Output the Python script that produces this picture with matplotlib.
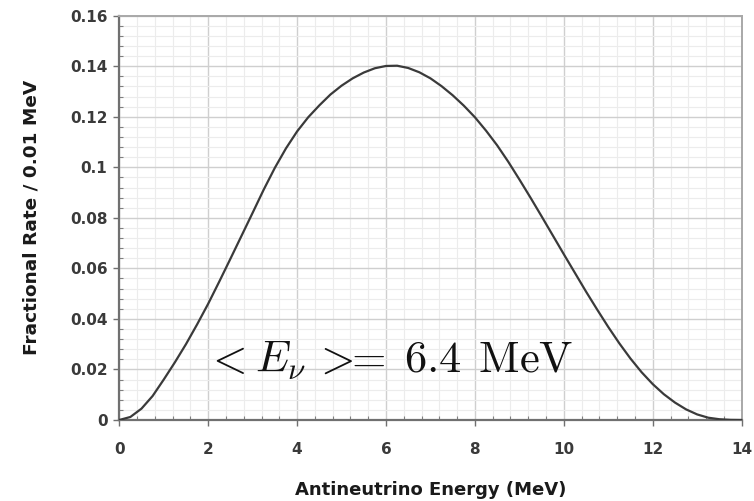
import numpy as np
import matplotlib
matplotlib.use("Agg")
import matplotlib.pyplot as plt
from matplotlib.ticker import MultipleLocator

# Antineutrino energy spectrum (fraction of rate per 0.01 MeV)
energy_mev = [0.0, 0.25, 0.5, 0.75, 1.0, 1.25, 1.5, 1.75, 2.0, 2.25, 2.5, 2.75,
              3.0, 3.25, 3.5, 3.75, 4.0, 4.25, 4.5, 4.75, 5.0, 5.25, 5.5, 5.75,
              6.0, 6.25, 6.5, 6.75, 7.0, 7.25, 7.5, 7.75, 8.0, 8.25, 8.5, 8.75,
              9.0, 9.25, 9.5, 9.75, 10.0, 10.25, 10.5, 10.75, 11.0, 11.25, 11.5,
              11.75, 12.0, 12.25, 12.5, 12.75, 13.0, 13.25, 13.5, 13.75, 14.0]
fractional_rate = [0.0, 0.0012, 0.0045, 0.0095, 0.016, 0.0228, 0.030, 0.0378,
                   0.046, 0.0548, 0.0638, 0.0729, 0.082, 0.0912, 0.0998, 0.1075,
                   0.1142, 0.1198, 0.1245, 0.1288, 0.1323, 0.1352, 0.1375,
                   0.1392, 0.1401, 0.1402, 0.1393, 0.1376, 0.1352, 0.1321,
                   0.1285, 0.1244, 0.1198, 0.1145, 0.1087, 0.1022, 0.0952,
                   0.0880, 0.0806, 0.0731, 0.0656, 0.0582, 0.0508, 0.0437,
                   0.0368, 0.0303, 0.0243, 0.0189, 0.0142, 0.0102, 0.0069,
                   0.0042, 0.0022, 0.0009, 0.0003, 0.00005, 0.0]

x_ticks = [0, 2, 4, 6, 8, 10, 12, 14]
x_tick_labels = ["0", "2", "4", "6", "8", "10", "12", "14"]
y_ticks = [0, 0.02, 0.04, 0.06, 0.08, 0.1, 0.12, 0.14, 0.16]
y_tick_labels = ["0", "0.02", "0.04", "0.06", "0.08", "0.1", "0.12", "0.14", "0.16"]

mean_label = r"$<E_\nu\,>\!\!\!=\;6.4\;\,\mathrm{MeV}$"

plt.rcParams["mathtext.fontset"] = "cm"

fig = plt.figure(figsize=(7.54, 5.01), dpi=100)
ax = fig.add_axes([0.1582, 0.1617, 0.9836 - 0.1582, 0.9687 - 0.1617])

ax.plot(energy_mev, fractional_rate, color="#3a3a3a", lw=1.6, zorder=3,
        solid_joinstyle="round")

ax.set_xlim(0, 14)
ax.set_ylim(0, 0.16)
ax.set_xticks(x_ticks)
ax.set_xticklabels(x_tick_labels)
ax.set_yticks(y_ticks)
ax.set_yticklabels(y_tick_labels)
ax.xaxis.set_minor_locator(MultipleLocator(0.4))
ax.yaxis.set_minor_locator(MultipleLocator(0.004))

ax.grid(which="major", color="#cfcfcf", lw=1.0, zorder=0)
ax.grid(which="minor", color="#ececec", lw=0.8, zorder=0)
ax.set_axisbelow(True)

for side in ("left", "bottom"):
    ax.spines[side].set_color("#707070")
    ax.spines[side].set_linewidth(1.6)
for side in ("top", "right"):
    ax.spines[side].set_color("#a8a8a8")
    ax.spines[side].set_linewidth(1.4)

ax.tick_params(which="major", direction="out", length=4, width=1.0,
               color="#707070", labelsize=11, labelcolor="#3a3a3a")
ax.tick_params(which="minor", direction="in", length=3, width=0.8,
               color="#808080")
ax.tick_params(axis="y", which="major", pad=4.5)
ax.tick_params(axis="x", which="major", pad=12)
for lab in ax.get_xticklabels() + ax.get_yticklabels():
    lab.set_fontweight("bold")

ax.set_xlabel("Antineutrino Energy (MeV)", fontsize=13, fontweight="bold",
              color="#1a1a1a", labelpad=17)
ax.set_ylabel("Fractional Rate / 0.01 MeV", fontsize=13.3, fontweight="bold",
              color="#1a1a1a", labelpad=21)

ax.text(1.93, 0.0187, mean_label, fontsize=32, color="#111111",
        ha="left", va="baseline", zorder=4)

fig.savefig("out.png", dpi=100)
